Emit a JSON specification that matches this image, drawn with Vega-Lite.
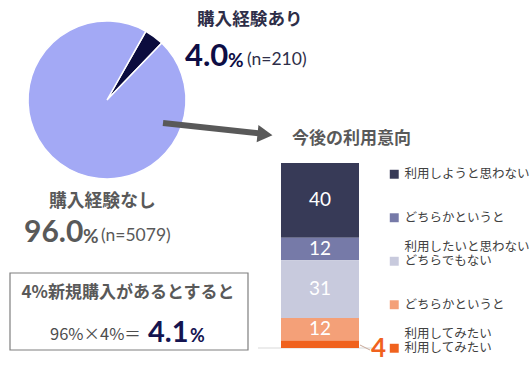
{
  "$schema": "https://vega.github.io/schema/vega-lite/v6.json",
  "width": 531,
  "height": 386,
  "padding": 0,
  "autosize": {"type": "none"},
  "background": "white",
  "config": {"view": {"stroke": null}, "text": {"font": "Noto Sans CJK JP"}},
  "datasets": {
    "pie": [
      {"group": "購入経験あり", "pct": 4.0, "n": 210},
      {"group": "購入経験なし", "pct": 96.0, "n": 5079}
    ],
    "intent": [
      {"answer": "利用しようと思わない", "value": 40},
      {"answer": "どちらかというと 利用したいと思わない", "value": 12},
      {"answer": "どちらでもない", "value": 31},
      {"answer": "どちらかというと 利用してみたい", "value": 12},
      {"answer": "利用してみたい", "value": 4}
    ],
    "note": [{}]
  },
  "layer": [
    {
      "data": {"name": "pie"},
      "mark": {"type": "arc", "x": 107, "y": 100, "outerRadius": 79, "stroke": "white", "strokeWidth": 1.5},
      "encoding": {
        "theta": {"field": "pct", "type": "quantitative", "stack": true, "scale": {"range": [0.515, 6.798]}},
        "color": {"field": "group", "type": "nominal", "sort": null,
          "scale": {"domain": ["購入経験あり", "購入経験なし"], "range": ["#0B0C3E", "#A3A9F5"]}, "legend": null}
      }
    },
    {
      "data": {"name": "note"},
      "mark": {"type": "rule", "strokeWidth": 6, "color": "#595959"},
      "encoding": {"x": {"value": 163}, "y": {"value": 123}, "x2": {"value": 260}, "y2": {"value": 133.5}}
    },
    {
      "data": {"name": "note"},
      "mark": {"type": "point", "shape": "triangle-right", "x": 265, "y": 134.5, "size": 300, "filled": true, "opacity": 1, "color": "#595959", "angle": 6},
      "encoding": {}
    },
    {
      "data": {"name": "note"},
      "mark": {"type": "rect", "x": 10, "x2": 248, "y": 273, "y2": 350, "fill": "white", "stroke": "#7F7F7F", "strokeWidth": 1.2},
      "encoding": {}
    },
    {"data": {"name": "note"}, "mark": {"type": "text", "text": "購入経験あり", "x": 197, "y": 20, "align": "left", "baseline": "middle", "fontSize": 17.6, "fontWeight": "bold", "color": "#2E2E48"}},
    {"data": {"name": "note"}, "mark": {"type": "text", "text": "4.0", "x": 185, "y": 57, "align": "left", "baseline": "middle", "font": "Lato", "fontSize": 31, "fontWeight": "bold", "color": "#0D0D45"}},
    {"data": {"name": "note"}, "mark": {"type": "text", "text": "%", "x": 228, "y": 61, "align": "left", "baseline": "middle", "font": "Lato", "fontSize": 19, "fontWeight": "bold", "color": "#0D0D45"}},
    {"data": {"name": "note"}, "mark": {"type": "text", "text": "(n=210)", "x": 247, "y": 60, "align": "left", "baseline": "middle", "font": "Lato", "fontSize": 17.5, "color": "#2E2E48"}},
    {"data": {"name": "note"}, "mark": {"type": "text", "text": "購入経験なし", "x": 49, "y": 202, "align": "left", "baseline": "middle", "fontSize": 17.8, "fontWeight": "bold", "color": "#595959"}},
    {"data": {"name": "note"}, "mark": {"type": "text", "text": "96.0", "x": 24, "y": 233, "align": "left", "baseline": "middle", "font": "Lato", "fontSize": 30, "fontWeight": "bold", "color": "#595959"}},
    {"data": {"name": "note"}, "mark": {"type": "text", "text": "%", "x": 83, "y": 237, "align": "left", "baseline": "middle", "font": "Lato", "fontSize": 19, "fontWeight": "bold", "color": "#595959"}},
    {"data": {"name": "note"}, "mark": {"type": "text", "text": "(n=5079)", "x": 101, "y": 236, "align": "left", "baseline": "middle", "font": "Lato", "fontSize": 17.5, "color": "#595959"}},
    {"data": {"name": "note"}, "mark": {"type": "text", "text": "4%新規購入があるとすると", "x": 128, "y": 293, "align": "center", "baseline": "middle", "fontSize": 17, "fontWeight": "bold", "color": "#595959"}},
    {"data": {"name": "note"}, "mark": {"type": "text", "text": "96%×4%＝", "x": 50, "y": 335, "align": "left", "baseline": "middle", "fontSize": 16.5, "color": "#4D4D4D"}},
    {"data": {"name": "note"}, "mark": {"type": "text", "text": "4.1", "x": 148, "y": 333, "align": "left", "baseline": "middle", "font": "Lato", "fontSize": 29, "fontWeight": "bold", "color": "#141450"}},
    {"data": {"name": "note"}, "mark": {"type": "text", "text": "%", "x": 190, "y": 337, "align": "left", "baseline": "middle", "font": "Lato", "fontSize": 18, "fontWeight": "bold", "color": "#141450"}},
    {"data": {"name": "note"}, "mark": {"type": "text", "text": "今後の利用意向", "x": 292, "y": 139, "align": "left", "baseline": "middle", "fontSize": 17, "fontWeight": "bold", "color": "#595959"}},
    {
      "data": {"name": "note"},
      "mark": {"type": "rule", "x": 258, "x2": 372, "color": "#D9D9D9", "strokeWidth": 1},
      "encoding": {"y": {"datum": 0, "type": "quantitative"}}
    },
    {
      "data": {"name": "note"},
      "mark": {"type": "rule", "strokeWidth": 1, "color": "#C8A898"},
      "encoding": {"x": {"value": 360}, "y": {"value": 345}, "x2": {"value": 370}, "y2": {"value": 350}}
    },
    {
      "data": {"name": "intent"},
      "transform": [{"window": [{"op": "row_number", "as": "i"}]}],
      "layer": [
        {
          "mark": {"type": "bar"},
          "encoding": {
            "x": {"datum": "今後の利用意向", "type": "nominal", "scale": {"range": [281, 359], "paddingInner": 0, "paddingOuter": 0}, "axis": null},
            "y": {"field": "value", "type": "quantitative", "stack": "zero", "scale": {"domain": [0, 99], "range": [348, 163], "nice": false}, "axis": null},
            "color": {
              "field": "answer", "type": "nominal", "sort": null,
              "scale": {"range": ["#373A57", "#767AA8", "#C8CADD", "#F4A078", "#F0621E"]},
              "legend": {
                "orient": "none", "legendX": 388, "legendY": 168, "title": null,
                "symbolType": "square", "symbolSize": 80, "symbolStrokeWidth": 0,
                "labelFont": "Noto Sans CJK JP", "labelFontSize": 12.5, "labelColor": "#404040",
                "labelOffset": 4, "labelLimit": 200, "rowPadding": 1.5,
                "labelExpr": "[split(datum.label, ' ')[0], '\u200b', length(split(datum.label, ' ')) > 1 ? split(datum.label, ' ')[1] : '\u200b']"
              }
            },
            "order": {"field": "i", "type": "quantitative", "sort": "descending"}
          }
        },
        {
          "mark": {"type": "text", "font": "Lato", "fontSize": 19, "color": "white", "baseline": "middle"},
          "encoding": {
            "x": {"datum": "今後の利用意向", "type": "nominal"},
            "y": {"field": "value", "type": "quantitative", "stack": "zero", "bandPosition": 0.5},
            "detail": {"field": "answer"},
            "order": {"field": "i", "type": "quantitative", "sort": "descending"},
            "text": {"field": "value", "type": "quantitative"},
            "opacity": {"condition": {"test": "datum.value < 10", "value": 0}, "value": 1}
          }
        },
        {
          "transform": [{"filter": "datum.answer == '利用してみたい'"}],
          "mark": {"type": "text", "font": "Lato", "fontSize": 26, "fontWeight": "bold", "color": "#F0621E", "align": "left", "baseline": "middle", "dx": 12, "dy": 5},
          "encoding": {
            "x": {"datum": "今後の利用意向", "type": "nominal", "bandPosition": 1},
            "y": {"field": "value", "type": "quantitative", "stack": "zero", "bandPosition": 0.5},
            "text": {"field": "value", "type": "quantitative"}
          }
        }
      ]
    }
  ],
  "resolve": {"scale": {"color": "independent"}}
}
